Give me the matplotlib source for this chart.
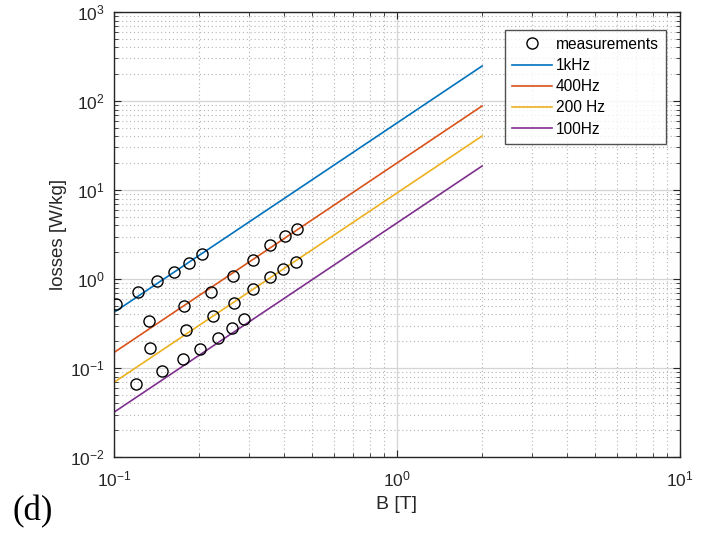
import numpy as np
import matplotlib
matplotlib.use("Agg")
import matplotlib.pyplot as plt
from matplotlib.ticker import LogLocator, NullFormatter

plt.rcParams['font.family'] = ['Liberation Sans', 'DejaVu Sans']
plt.rcParams['mathtext.fontset'] = 'custom'
plt.rcParams['mathtext.rm'] = 'Liberation Sans'

# measured losses (B in T, losses in W/kg)
b_meas = [0.1014, 0.1219, 0.1423, 0.1634, 0.1841, 0.2041,
          0.1329, 0.1772, 0.2202, 0.2634, 0.3099, 0.3548, 0.4009, 0.4431,
          0.1345, 0.1791, 0.2232, 0.2655, 0.3099, 0.3548, 0.3952, 0.4408,
          0.1196, 0.1478, 0.1748, 0.2019, 0.2325, 0.2606, 0.2881]
p_meas = [0.530, 0.716, 0.942, 1.197, 1.522, 1.902,
          0.337, 0.499, 0.710, 1.080, 1.644, 2.419, 3.023, 3.620,
          0.1695, 0.2693, 0.3795, 0.544, 0.773, 1.053, 1.305, 1.562,
          0.066, 0.0930, 0.1277, 0.1637, 0.2174, 0.2810, 0.3542]

# model curves, straight lines on log-log between B = 0.1 and B = 2
b_model = [0.1, 2.0]
p_1khz = [0.421, 247.0]
p_400hz = [0.149, 87.9]
p_200hz = [0.0689, 40.4]
p_100hz = [0.0318, 18.6]

fig = plt.figure(figsize=(7.12, 5.33), dpi=100)
ax = fig.add_axes([0.160, 0.1426, 0.795, 0.835])

ax.plot(b_meas, p_meas, 'o', mfc='none', mec='black', ms=8, mew=1.0,
        label='measurements', zorder=5)
ax.plot(b_model, p_1khz, color='#0072BD', lw=1.2, label='1kHz')
ax.plot(b_model, p_400hz, color='#D95319', lw=1.2, label='400Hz')
ax.plot(b_model, p_200hz, color='#EDB120', lw=1.2, label='200 Hz')
ax.plot(b_model, p_100hz, color='#7E2F8E', lw=1.2, label='100Hz')

ax.set_xscale('log')
ax.set_yscale('log')
ax.set_xlim(0.1, 10)
ax.set_ylim(1e-2, 1e3)

ax.xaxis.set_major_locator(LogLocator(base=10, numticks=10))
ax.yaxis.set_major_locator(LogLocator(base=10, numticks=10))
ax.xaxis.set_minor_locator(LogLocator(base=10, subs=np.arange(2, 10), numticks=20))
ax.yaxis.set_minor_locator(LogLocator(base=10, subs=np.arange(2, 10), numticks=20))
ax.xaxis.set_minor_formatter(NullFormatter())
ax.yaxis.set_minor_formatter(NullFormatter())

ax.grid(True, which='major', color='#d4d4d4', lw=0.9, ls='-')
ax.grid(True, which='minor', color='#b4b4b4', lw=0.8, ls=(0, (1, 2.5)))
ax.set_axisbelow(True)

ax.tick_params(which='both', direction='in', top=True, right=True,
               color='#262626', labelsize=12.5, labelcolor='#262626')
ax.tick_params(which='major', length=5, width=0.8)
ax.tick_params(which='minor', length=3, width=0.6)
ax.tick_params(axis='x', pad=9)
ax.tick_params(axis='y', pad=6.5)
for s in ax.spines.values():
    s.set_color('#262626')
    s.set_linewidth(1.0)

ax.set_xlabel('B [T]', fontsize=14, color='#262626', labelpad=5)
ax.set_ylabel('losses [W/kg]', fontsize=13.5, color='#262626')
ax.yaxis.set_label_coords(-0.083, 0.5)

leg = ax.legend(loc='upper right', bbox_to_anchor=(0.975, 0.96), fontsize=11.2,
                frameon=True, fancybox=False, edgecolor='#262626',
                borderaxespad=0, handlelength=2.57, handletextpad=0.26,
                borderpad=0.45, labelspacing=0.4)
leg.get_frame().set_linewidth(1.0)

fig.text(0.018, 0.0244, '(d)', fontsize=25, family='Liberation Serif')

fig.savefig('out.png', dpi=100)
